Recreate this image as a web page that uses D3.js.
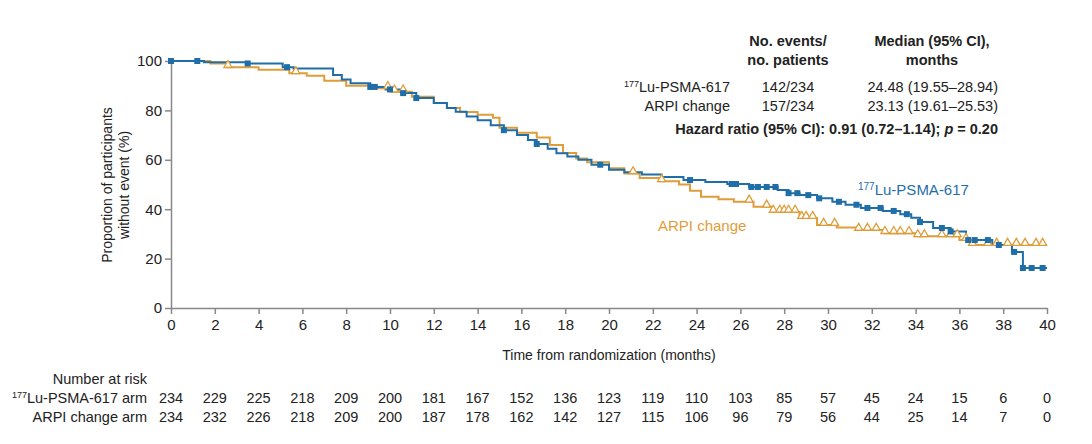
<!DOCTYPE html>
<html><head><meta charset="utf-8">
<script src="https://cdn.jsdelivr.net/npm/d3@7"></script>
<style>body{margin:0;background:#fff}text{font-family:"Liberation Sans",Arial,sans-serif;fill:#222}</style>
</head><body><svg id="c" width="1092" height="444"></svg>
<script>
const xTicks = d3.range(0, 41, 2);
const yTicks = [0, 20, 40, 60, 80, 100];
// step curves: [month, proportion]
const luSteps = [[0,100],[1.5,99.5],[3.5,99],[5.1,97.5],[5.6,97],[7.4,94.3],[7.8,92.5],[8.2,91],[9.1,89.5],[9.8,88.5],[10.5,87],[11.2,85],[12,83],[12.6,81],[13,79.5],[13.5,77.5],[14,76],[14.6,74],[15.2,72],[15.8,70],[16.3,68],[16.7,66.4],[17.2,64.5],[17.6,62.7],[18.1,61.3],[18.6,60],[19.2,58],[20,56],[20.7,55],[21.5,54],[22.4,53],[23.4,51.8],[24.4,51],[25.4,50.2],[26.4,49],[27.7,47.8],[28.2,46.5],[28.7,45.7],[29.5,44.4],[30.2,43],[30.8,41.8],[31.5,40.5],[32.5,39.3],[33.3,38],[33.8,36.5],[34.2,34.8],[34.8,32.4],[35.6,31],[36.3,27.5],[37.5,25.5],[38.4,22.7],[38.9,16.2],[40,16.2]];
const arpiSteps = [[0,100],[1.8,99],[2.6,97.5],[4,96.5],[5.4,95],[6.2,94],[7,92],[8,90],[9.4,89],[10.1,87.6],[11,85.5],[12,83],[12.6,81],[13.2,79.4],[14,78.2],[14.7,77],[15,73],[15.8,71],[16.7,69],[17.3,66],[17.9,62.8],[18.5,60.5],[19,59],[20,56.6],[20.7,54.5],[21.4,52.6],[22.3,51.3],[23.2,50],[23.7,47.5],[24.2,45],[25,44],[25.7,43],[26.6,41],[27.5,38.9],[28.7,36.4],[29.5,33.6],[30.4,32.6],[31.3,31.6],[32.6,30.3],[34,29],[36,27.5],[36.6,25.5],[40,25.5]];
const luCensor = [0,1.2,3.5,5.3,9.1,9.3,10,10.6,11.2,15.2,16.7,19.6,23.7,25.6,25.8,26.5,26.8,27.2,27.6,28.2,28.6,29.1,29.6,30.5,31.3,31.8,32.4,33,33.6,34.2,35.2,35.6,36.4,36.7,37.3,37.8,38.5,38.9,39.3,39.8];
const arpiCensor = [2.6,5.7,9.9,10.2,10.6,21.1,22.4,26.4,27.2,27.5,27.8,28,28.2,28.5,28.8,29,29.3,29.8,30.3,31.4,31.8,32.2,32.6,33,33.3,33.7,34.1,34.4,35.2,35.6,35.9,36.3,36.6,37.3,37.7,38.2,38.6,39,39.5,39.8];
const atRiskLu = [234,229,225,218,209,200,181,167,152,136,123,119,110,103,85,57,45,24,15,6,0];
const atRiskArpi = [234,232,226,218,209,200,187,178,162,142,127,115,106,96,79,56,44,25,14,7,0];

const blue = "#1f6ea8", orange = "#df9d3a";
const svg = d3.select("#c");
const x = d3.scaleLinear().domain([0, 40]).range([171, 1047]);
const y = d3.scaleLinear().domain([0, 100]).range([308, 61]);

svg.append("g").attr("transform", "translate(0,308)")
  .call(d3.axisBottom(x).tickValues(xTicks).tickSize(6).tickSizeOuter(0))
  .call(g => g.selectAll("text").attr("font-size", 15).attr("dy", "0.85em"));
svg.append("g").attr("transform", "translate(171,0)")
  .call(d3.axisLeft(y).tickValues(yTicks).tickSize(6).tickSizeOuter(0))
  .call(g => g.selectAll("text").attr("font-size", 15));
svg.selectAll(".domain,.tick line").attr("stroke", "#888").attr("stroke-width", 1.5);

svg.append("text").attr("x", 609).attr("y", 360).attr("text-anchor", "middle").attr("font-size", 14).text("Time from randomization (months)");
svg.append("text").attr("transform", "translate(112,185) rotate(-90)").attr("text-anchor", "middle").attr("font-size", 14)
  .selectAll("tspan").data(["Proportion of participants", "without event (%)"]).join("tspan")
  .attr("x", 0).attr("dy", (d, i) => i ? 17 : 0).text(d => d);

const line = d3.line().x(d => x(d[0])).y(d => y(d[1])).curve(d3.curveStepAfter);
function valAt(steps, t) { let v = steps[0][1]; for (const s of steps) if (s[0] <= t) v = s[1]; return v; }

svg.append("path").datum(arpiSteps).attr("d", line).attr("fill", "none").attr("stroke", orange).attr("stroke-width", 2);
svg.append("path").datum(luSteps).attr("d", line).attr("fill", "none").attr("stroke", blue).attr("stroke-width", 2);
const tri = d3.symbol().type(d3.symbolTriangle).size(28);
svg.selectAll(".ta").data(arpiCensor).join("path")
  .attr("d", tri).attr("transform", d => `translate(${x(d)},${y(valAt(arpiSteps, d)) - 2})`)
  .attr("fill", "#fff").attr("stroke", orange).attr("stroke-width", 1.3);
svg.selectAll(".sq").data(luCensor).join("rect")
  .attr("x", d => x(d) - 3).attr("y", d => y(valAt(luSteps, d)) - 3).attr("width", 6).attr("height", 6).attr("fill", blue);

// curve labels
const lab = svg.append("text").attr("x", 858).attr("y", 195).attr("font-size", 15).style("fill", blue);
lab.append("tspan").attr("font-size", 10).attr("dy", -5).style("fill", blue).text("177");
lab.append("tspan").attr("dy", 5).style("fill", blue).text("Lu-PSMA-617");
svg.append("text").attr("x", 658).attr("y", 231).attr("font-size", 15).style("fill", orange).text("ARPI change");

// legend table
const hd = [["No. events/", "no. patients", 788], ["Median (95% CI),", "months", 932]];
hd.forEach(h => {
  svg.append("text").attr("x", h[2]).attr("y", 46).attr("text-anchor", "middle").attr("font-size", 14.5).attr("font-weight", "bold").text(h[0]);
  svg.append("text").attr("x", h[2]).attr("y", 65).attr("text-anchor", "middle").attr("font-size", 14.5).attr("font-weight", "bold").text(h[1]);
});
const rows = [["Lu-PSMA-617", "142/234", "24.48 (19.55–28.94)", true], ["ARPI change", "157/234", "23.13 (19.61–25.53)", false]];
rows.forEach((r, i) => {
  const yy = 92 + i * 19;
  const t = svg.append("text").attr("x", 730).attr("y", yy).attr("text-anchor", "end").attr("font-size", 14.5);
  if (r[3]) t.append("tspan").attr("font-size", 9).attr("dy", -5).text("177");
  t.append("tspan").attr("dy", r[3] ? 5 : 0).text(r[0]);
  svg.append("text").attr("x", 788).attr("y", yy).attr("text-anchor", "middle").attr("font-size", 14.5).text(r[1]);
  svg.append("text").attr("x", 998).attr("y", yy).attr("text-anchor", "end").attr("font-size", 14.5).text(r[2]);
});
const hr = svg.append("text").attr("x", 998).attr("y", 134).attr("text-anchor", "end").attr("font-size", 14.5).attr("font-weight", "bold");
hr.append("tspan").text("Hazard ratio (95% CI): 0.91 (0.72–1.14); ");
hr.append("tspan").attr("font-style", "italic").text("p");
hr.append("tspan").text(" = 0.20");

// number at risk
svg.append("text").attr("x", 147).attr("y", 384).attr("text-anchor", "end").attr("font-size", 14.5).text("Number at risk");
const nl = svg.append("text").attr("x", 147).attr("y", 403).attr("text-anchor", "end").attr("font-size", 14.5);
nl.append("tspan").attr("font-size", 9).attr("dy", -5).text("177");
nl.append("tspan").attr("dy", 5).text("Lu-PSMA-617 arm");
svg.append("text").attr("x", 147).attr("y", 422).attr("text-anchor", "end").attr("font-size", 14.5).text("ARPI change arm");
[[atRiskLu, 403], [atRiskArpi, 422]].forEach(([arr, yy]) => {
  svg.selectAll(null).data(arr).join("text").attr("x", (d, i) => x(xTicks[i])).attr("y", yy)
    .attr("text-anchor", "middle").attr("font-size", 14.5).text(d => d);
});
</script></body></html>
